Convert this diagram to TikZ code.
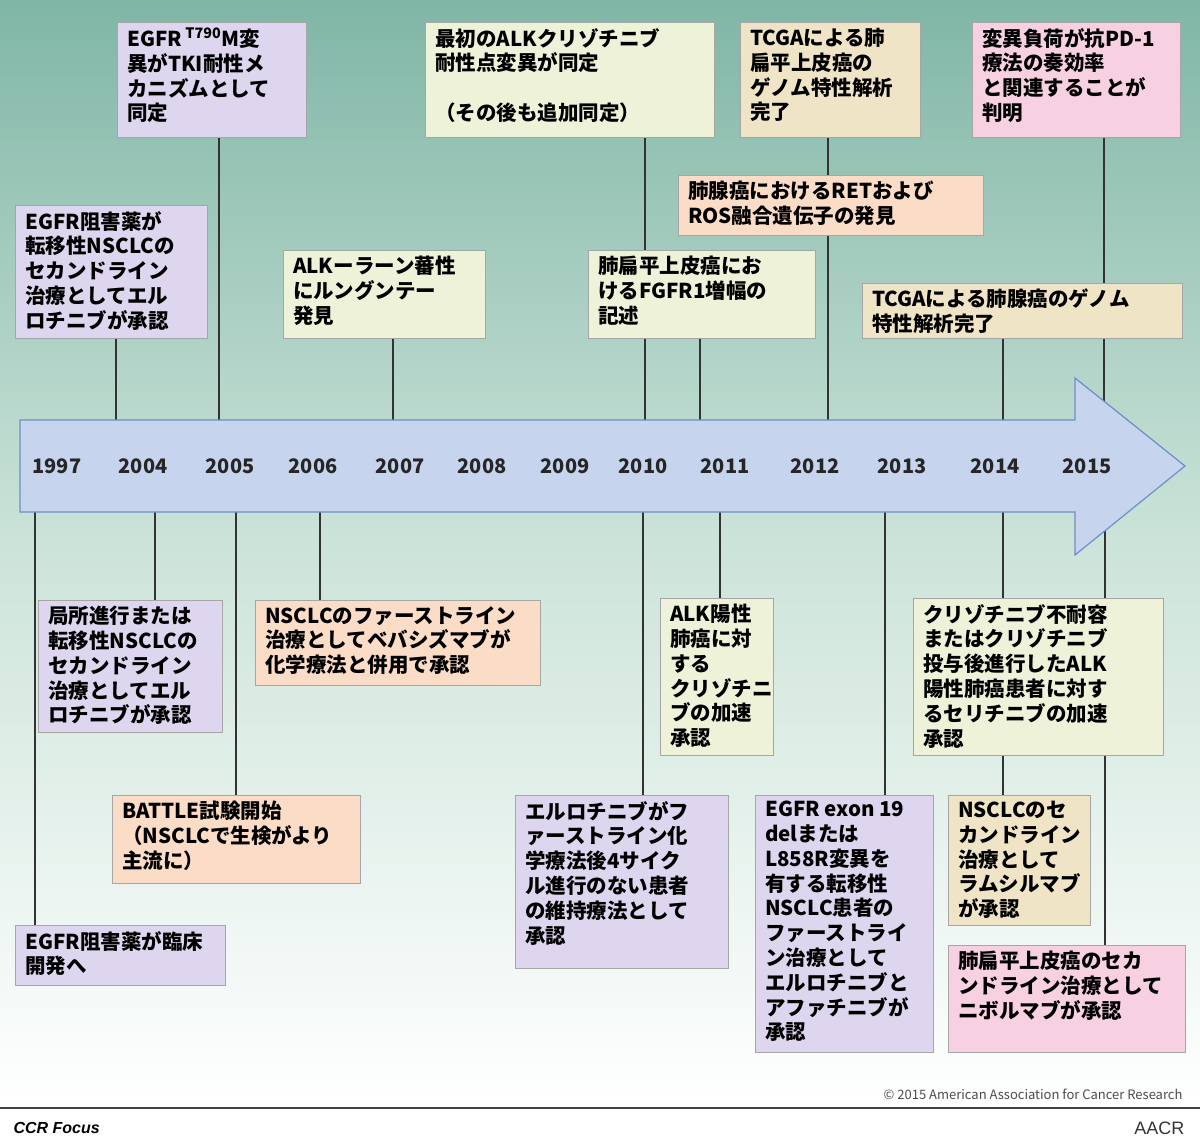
\documentclass[tikz,border=0pt]{standalone}
\usepackage{fontspec}
\setmainfont{Noto Sans CJK JP}
\newfontfamily\lsans{Liberation Sans}
\usetikzlibrary{shapes.arrows}
\definecolor{lav}{HTML}{DDD6EE}
\definecolor{lgr}{HTML}{EEF2D8}
\definecolor{sal}{HTML}{FBDCC6}
\definecolor{pnk}{HTML}{F7D0E2}
\definecolor{tan}{HTML}{F0E4C6}
\definecolor{arrfill}{HTML}{C6D4EE}
\definecolor{arrdraw}{HTML}{6F8FC8}
\begin{document}
\begin{tikzpicture}[x=1pt,y=-1pt,
 box/.style={draw=gray!70,line width=0.8pt,inner sep=0pt,anchor=north west},
 lbl/.style={anchor=north west,align=left,inner sep=0pt,font=\fontsize{20.5}{24.8}\selectfont\bfseries},
 yr/.style={font=\fontsize{20}{24}\selectfont\bfseries,text=black!85},
 ln/.style={line width=1.2pt,black!80}]
\useasboundingbox (0,0) rectangle (1200,1145);
\shade[top color={rgb,255:red,128;green,182;blue,166},bottom color=white,middle color={rgb,255:red,205;green,228;blue,218}] (0,0) rectangle (1200,1105);
\draw[line width=2pt,black!75] (0,1108) -- (1200,1108);
% connector coordinates
\foreach \n/\x/\a/\b in {t1/219/137/430,t2/116/338/430,t3/393/338/430,t4/645/137/430,t5/700/338/430,t7/828/137/430,t8/1003/338/430,t9/1104/137/430,
 b1/35/500/925,b2/155/500/600,b3/236/500/795,b4/320/500/600,b5/643/500/795,b6/720/500/598,b7/885/500/795,b8/1003/500/795,b9/1105/500/945}{
 \coordinate (\n s) at (\x,\a); \coordinate (\n e) at (\x,\b);
 \draw[ln] (\n s) -- (\n e);}
% timeline arrow
\draw[fill=arrfill,draw=arrdraw,line width=1.2pt] (20,420) -- (1075,420) -- (1075,378) -- (1185,466) -- (1075,555) -- (1075,512) -- (20,512) -- cycle;
\foreach \x/\y in {57/1997,143/2004,230/2005,313/2006,400/2007,482/2008,565/2009,643/2010,725/2011,815/2012,902/2013,995/2014,1087/2015}
  \node[yr] (y\y) at (\x,466) {\y};
% boxes
\newcommand{\evbox}[7]{% name,x1,y1,x2,y2,color,text
 \node[box,fill=#6,minimum width={#4-#2},minimum height={#5-#3}] (#1) at (#2,#3) {};
 \node[lbl] (#1t) at ([xshift=10pt,yshift=-6pt]#1.north west) {#7};}
\evbox{A1}{117}{22}{306}{137}{lav}{EGFR\,\textsuperscript{T790}M変\\異がTKI耐性メ\\カニズムとして\\同定}
\evbox{A2}{15}{205}{207}{338}{lav}{EGFR阻害薬が\\転移性NSCLCの\\セカンドライン\\治療としてエル\\ロチニブが承認}
\evbox{A3}{283}{250}{485}{338}{lgr}{ALKーラーン蕃性\\にルングンテー\\発見}
\evbox{A4}{425}{22}{714}{137}{lgr}{最初のALKクリゾチニブ\\耐性点変異が同定\\\\（その後も追加同定）}
\evbox{A5}{588}{250}{815}{338}{lgr}{肺扁平上皮癌にお\\けるFGFR1増幅の\\記述}
\evbox{A6}{678}{175}{983}{235}{sal}{肺腺癌におけるRETおよび\\ROS融合遺伝子の発見}
\evbox{A7}{740}{22}{920}{137}{tan}{TCGAによる肺\\扁平上皮癌の\\ゲノム特性解析\\完了}
\evbox{A8}{862}{283}{1182}{338}{tan}{TCGAによる肺腺癌のゲノム\\特性解析完了}
\evbox{A9}{972}{22}{1180}{137}{pnk}{変異負荷が抗PD-1\\療法の奏効率\\と関連することが\\判明}
\evbox{B1}{15}{925}{225}{985}{lav}{EGFR阻害薬が臨床\\開発へ}
\evbox{B2}{38}{600}{222}{732}{lav}{局所進行または\\転移性NSCLCの\\セカンドライン\\治療としてエル\\ロチニブが承認}
\evbox{B3}{112}{795}{360}{883}{sal}{BATTLE試験開始\\（NSCLCで生検がより\\主流に）}
\evbox{B4}{255}{600}{540}{685}{sal}{NSCLCのファーストライン\\治療としてベバシズマブが\\化学療法と併用で承認}
\evbox{B5}{515}{795}{728}{968}{lav}{エルロチニブがフ\\ァーストライン化\\学療法後4サイク\\ル進行のない患者\\の維持療法として\\承認}
\evbox{B6}{660}{598}{773}{755}{lgr}{ALK陽性\\肺癌に対\\する\\クリゾチニ\\ブの加速\\承認}
\evbox{B7}{755}{795}{933}{1052}{lav}{EGFR exon 19\\delまたは\\L858R変異を\\有する転移性\\NSCLC患者の\\ファーストライ\\ン治療として\\エルロチニブと\\アファチニブが\\承認}
\evbox{B8}{913}{598}{1163}{755}{lgr}{クリゾチニブ不耐容\\またはクリゾチニブ\\投与後進行したALK\\陽性肺癌患者に対す\\るセリチニブの加速\\承認}
\evbox{B9}{948}{795}{1090}{925}{tan}{NSCLCのセ\\カンドライン\\治療として\\ラムシルマブ\\が承認}
\evbox{B10}{948}{945}{1185}{1052}{pnk}{肺扁平上皮癌のセカ\\ンドライン治療として\\ニボルマブが承認}
\node[anchor=east,font=\fontsize{13}{15}\selectfont,text=black!70] (copy) at (1186,1094) {© 2015 American Association for Cancer Research};
\node[anchor=west,font=\lsans\fontsize{16}{18}\selectfont\bfseries\itshape] (ccr) at (10,1128) {CCR Focus};
\node[anchor=east,font=\lsans\fontsize{18}{20}\selectfont,text=black!80] (aacr) at (1188,1128) {AACR};
\end{tikzpicture}
\end{document}
